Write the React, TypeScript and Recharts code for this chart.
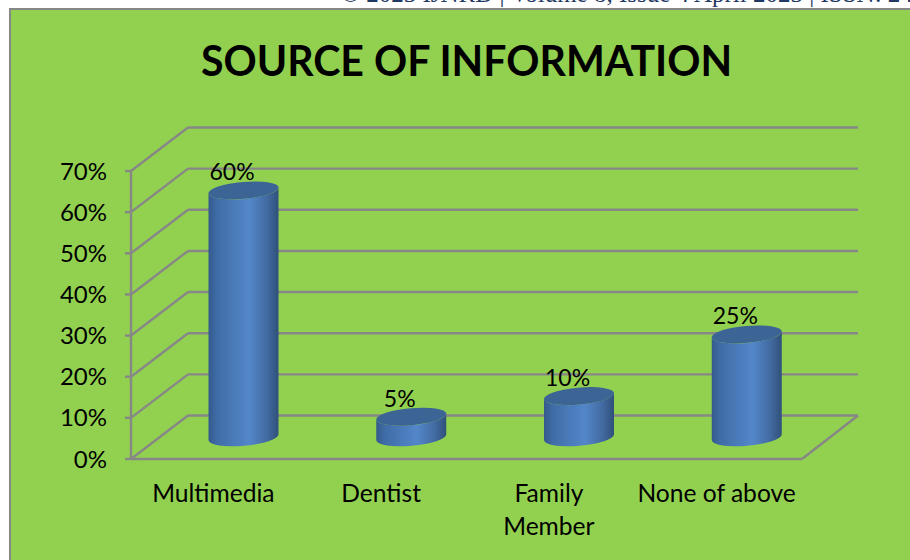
import { Bar, BarChart, CartesianGrid, LabelList, XAxis, YAxis } from "recharts";

const categories = ["Multimedia", "Dentist", "Family Member", "None of above"];
const percentages = [60, 5, 10, 25];
const yTicks = [0, 10, 20, 30, 40, 50, 60, 70];
const categoryLines: Record<string, string[]> = {
  Multimedia: ["Multimedia"],
  Dentist: ["Dentist"],
  "Family Member": ["Family", "Member"],
  "None of above": ["None of above"],
};

const rows = categories.map((name, i) => ({ name, value: percentages[i] }));

const FONT = "Lato, 'Open Sans', sans-serif";
const GREEN = "#92d14f";
const GREY = "#878787";

// profondeur de la "3D" : le mur du fond est décalé de DX/DY, les barres sont à mi-profondeur
const DX = 57;
const DY = -43.5;
const RX = 35;
const RY = 8.5;
const TILT = 3;

function GridLine(props: any) {
  const { x1, x2, y1, index } = props;
  const isFloor = Math.abs(y1 - 459) < 1;
  return (
    <g key={`grid-${index}`} stroke={GREY} strokeWidth={2.4} fill="none">
      <line x1={x1} y1={y1} x2={x1 + DX} y2={y1 + DY} />
      <line x1={x1 + DX} y1={y1 + DY} x2={x2 + DX - 1} y2={y1 + DY} />
      {isFloor && <line x1={x2} y1={y1} x2={x2 + DX - 1} y2={y1 + DY} />}
      {isFloor && <line x1={x1} y1={y1} x2={x2} y2={y1} />}
    </g>
  );
}

function Cylinder(props: any) {
  const { x, y, width, height } = props;
  const cx = x + width / 2 + DX / 2;
  const top = y + DY / 2;
  const base = top + height;
  const body =
    `M${cx - RX},${top + TILT} L${cx - RX},${base + TILT} ` +
    `A${RX},${RY} -5 0 0 ${cx + RX},${base - TILT} L${cx + RX},${top - TILT} ` +
    `A${RX},${RY} -5 0 1 ${cx - RX},${top + TILT} Z`;
  return (
    <g>
      <path d={body} fill="url(#cylBody)" />
      <ellipse cx={cx} cy={top} rx={RX + 0.2} ry={RY} transform={`rotate(-5 ${cx} ${top})`} fill="#3c6494" />
    </g>
  );
}

function ValueLabel(props: any) {
  const { x, y, width, value } = props;
  return (
    <text x={x + width / 2 + 17} y={y + DY / 2 - 19} textAnchor="middle" dominantBaseline="central"
      fontFamily={FONT} fontSize={23} fill="#000">
      {value}%
    </text>
  );
}

function CategoryTick(props: any) {
  const { x, y, payload } = props;
  return (
    <text x={x - 1.5} y={y} textAnchor="middle" fontFamily={FONT} fontSize={24.6} fill="#000">
      {categoryLines[payload.value].map((line, i) => (
        <tspan key={line} x={x - 1.5} dy={i === 0 ? 35 : 33}>{line}</tspan>
      ))}
    </text>
  );
}

export default function App() {
  return (
    <div style={{ position: "absolute", left: 0, top: 0, width: 910, height: 560, overflow: "hidden", background: "#fff" }}>
      <div style={{
        position: "absolute", left: 341, top: -20, whiteSpace: "nowrap", color: "#1f3864",
        fontFamily: "'Liberation Serif', serif", fontSize: 25,
      }}>
        © 2023 IJNRD | Volume 8, Issue 4 April 2023 | ISSN: 2456-4184 | IJNRD.ORG
      </div>
      <div style={{
        position: "absolute", left: 9, top: 8, width: 910, height: 560, background: GREEN,
        border: `2.5px solid ${GREY}`, boxSizing: "border-box",
      }} />
      <div style={{ position: "absolute", left: 0, top: 0 }}>
        <BarChart width={910} height={560} data={rows} margin={{ top: 171, right: 108, bottom: 41, left: 71 }} barSize={70}>
          <defs>
            <linearGradient id="cylBody" x1="0" y1="0" x2="1" y2="0">
              <stop offset="0" stopColor="#345a8c" />
              <stop offset="0.12" stopColor="#3f6ca6" />
              <stop offset="0.58" stopColor="#5387ca" />
              <stop offset="0.85" stopColor="#41699f" />
              <stop offset="1" stopColor="#2f5079" />
            </linearGradient>
          </defs>
          <text x={466.5} y={60} textAnchor="middle" dominantBaseline="central" fontFamily={FONT}
            fontWeight={700} fontSize={41.1} fill="#000">
            SOURCE OF INFORMATION
          </text>
          <CartesianGrid vertical={false} horizontal={GridLine} />
          <XAxis dataKey="name" height={60} axisLine={false} tickLine={false} tick={CategoryTick} interval={0} />
          <YAxis width={60} domain={[0, 70]} ticks={yTicks} interval={0}
            axisLine={{ stroke: GREY, strokeWidth: 2.4 }}
            tickLine={{ stroke: GREY, strokeWidth: 2.4 }} tickSize={6} tickMargin={18}
            tick={{ fill: "#000", fontSize: 24, fontFamily: FONT }}
            tickFormatter={(v: number) => `${v}%`} />
          <Bar dataKey="value" shape={Cylinder} isAnimationActive={false}>
            <LabelList dataKey="value" content={ValueLabel} />
          </Bar>
        </BarChart>
      </div>
    </div>
  );
}
